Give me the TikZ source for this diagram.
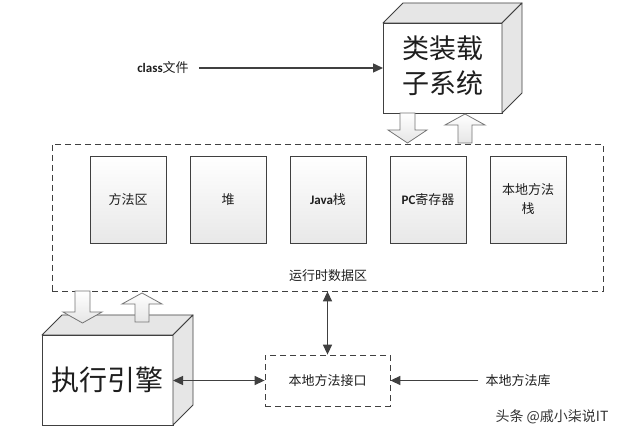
\documentclass[tikz,border=0pt]{standalone}
\usepackage{fontspec}
\setmainfont{Noto Sans CJK SC}
\newfontfamily\latinbf{Carlito}
\usetikzlibrary{arrows.meta}
\definecolor{ln}{HTML}{404040}
\definecolor{face}{HTML}{E6E6E6}
\definecolor{hbord}{HTML}{757575}
\definecolor{txt}{HTML}{1E1E1E}
\begin{document}
\begin{tikzpicture}[x=1pt,y=-1pt,
  every node/.style={text=txt},
  mem/.style={draw=ln, line width=0.8pt, top color=white, bottom color=black!9,
    minimum width=76pt, minimum height=87pt, inner sep=0pt, align=center,
    font=\fontsize{13}{19}\selectfont},
  region/.style={draw=ln, line width=0.8pt, dash pattern=on 6pt off 4pt, inner sep=0pt},
  front/.style={draw=ln, line width=0.9pt, fill=white, outer sep=0pt, inner sep=0pt, align=center},
  sideface/.style={draw=ln, line width=0.9pt, fill=face, line join=round},
  hollow/.style={draw=hbord, line width=0.8pt, top color=white, bottom color=black!10, line join=miter},
  lbl/.style={font=\fontsize{13}{16}\selectfont, inner sep=1pt},
  arr/.style={draw=ln, line width=1.4pt, -{Triangle[length=10pt,width=9pt]}},
  darr/.style={draw=ln, line width=1.4pt, {Triangle[length=10pt,width=9pt]}-{Triangle[length=10pt,width=9pt]}}
]
\useasboundingbox[fill=white] (0,0) rectangle (632,438);

% runtime data area
\node[region, minimum width=551pt, minimum height=147pt] (rda) at (327.5,217.5) {};
\node[lbl] (rdalbl) at (328,276) {运行时数据区};

\node[mem] (m1) at (128,199.5) {方法区};
\node[mem] (m2) at (228,199.5) {堆};
\node[mem] (m3) at (328,199.5) {{\latinbf\bfseries Java}栈};
\node[mem] (m4) at (428,199.5) {{\latinbf\bfseries PC}寄存器};
\node[mem] (m5) at (528,199.5) {本地方法\\栈};

% class loader cube
\node[front, minimum width=119pt, minimum height=90pt] (loader) at (442.5,68) {};
\draw[sideface] (loader.north west) -- ++(20,-20) -- ++(119,0) -- (loader.north east) -- cycle;
\draw[sideface] (loader.north east) -- ++(20,-20) -- ++(0,90) -- (loader.south east) -- cycle;
\node[front, draw=none, fill=none, font=\fontsize{27}{35}\selectfont] (loadertxt) at (443,66) {类装载\\子系统};

% hollow arrows loader <-> data area
\draw[hollow] (400,113) -- (415,113) -- (415,130) -- (427,130) -- (407.5,143) -- (388,130) -- (400,130) -- cycle;
\draw[hollow] (458,143) -- (472,143) -- (472,125) -- (485,125) -- (465,114) -- (445,125) -- (458,125) -- cycle;

% execution engine cube
\node[front, minimum width=131pt, minimum height=90pt] (engine) at (107.5,380) {};
\draw[sideface] (engine.north west) -- ++(20,-20) -- ++(131,0) -- (engine.north east) -- cycle;
\draw[sideface] (engine.north east) -- ++(20,-20) -- ++(0,90) -- (engine.south east) -- cycle;
\node[front, draw=none, fill=none, font=\fontsize{28}{34}\selectfont] (enginetxt) at (107.5,380) {执行引擎};

% hollow arrows data area <-> engine
\draw[hollow] (75,291) -- (90,291) -- (90,312) -- (102,312) -- (82.5,323) -- (63,312) -- (75,312) -- cycle;
\draw[hollow] (135,322) -- (149,322) -- (149,304) -- (162,304) -- (142,293) -- (122,304) -- (135,304) -- cycle;

% native interface
\node[region, minimum width=125pt, minimum height=51pt, font=\fontsize{13}{16}\selectfont] (iface) at (327.5,380.5) {本地方法接口};
\node[lbl] (lib) at (518,380.5) {本地方法库};
\node[lbl] (cls) at (163,68) {{\latinbf\bfseries class}文件};

% connectors
\draw[arr, shorten <=9pt] (cls.east) -- (loader.west);
\draw[darr] (rda.south) -- (iface.north);
\draw[darr] (engine.east |- iface.west) -- (iface.west);
\draw[arr, shorten <=6pt] (lib.west) -- (iface.east);

% watermark
\node[font=\fontsize{14}{16}\selectfont, text=black!80] (wm) at (552,417) {头条 @戚小柒说IT};
\end{tikzpicture}
\end{document}
